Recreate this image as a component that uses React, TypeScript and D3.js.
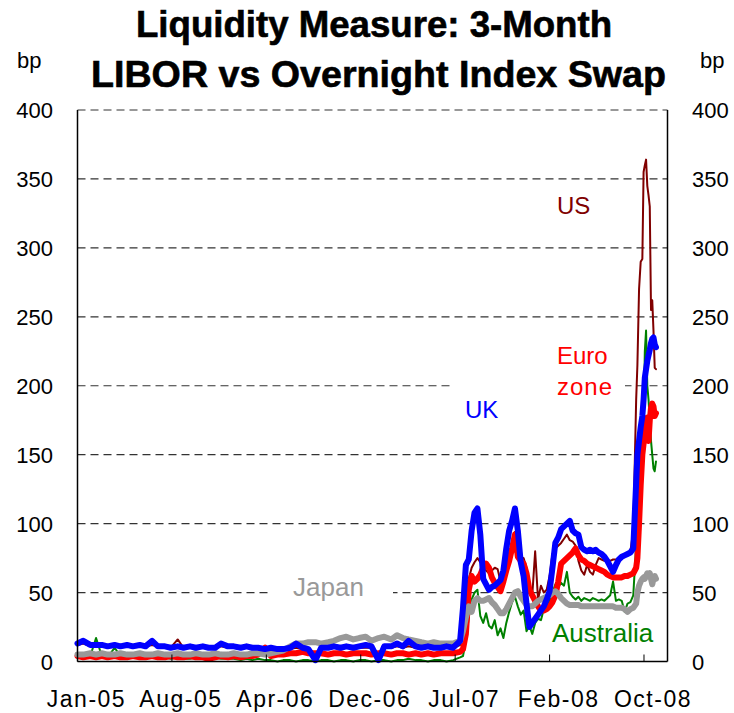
import React from "react";
import * as d3 from "d3";

// Observation dates: semi-monthly before the August 2007 turmoil, weekly afterwards,
// and every few days around the October 2008 peak.
const dates: string[] = [
  "2005-01-01","2005-01-15","2005-02-01","2005-02-15","2005-03-01","2005-03-15","2005-04-01","2005-04-15",
  "2005-05-01","2005-05-15","2005-06-01","2005-06-15","2005-07-01","2005-07-15","2005-08-01","2005-08-15",
  "2005-09-01","2005-09-15","2005-10-01","2005-10-15","2005-11-01","2005-11-15","2005-12-01","2005-12-15",
  "2006-01-01","2006-01-15","2006-02-01","2006-02-15","2006-03-01","2006-03-15","2006-04-01","2006-04-15",
  "2006-05-01","2006-05-15","2006-06-01","2006-06-15","2006-07-01","2006-07-15","2006-08-01","2006-08-15",
  "2006-09-01","2006-09-15","2006-10-01","2006-10-15","2006-11-01","2006-11-15","2006-12-01","2006-12-15",
  "2007-01-01","2007-01-15","2007-02-01","2007-02-15","2007-03-01","2007-03-15","2007-04-01","2007-04-15",
  "2007-05-01","2007-05-15","2007-06-01","2007-06-15","2007-07-01",
  "2007-07-18","2007-07-25","2007-08-01","2007-08-08","2007-08-15","2007-08-22","2007-08-29","2007-09-05",
  "2007-09-12","2007-09-19","2007-09-26","2007-10-03","2007-10-10","2007-10-17","2007-10-24","2007-10-31",
  "2007-11-07","2007-11-14","2007-11-21","2007-11-28","2007-12-05","2007-12-12","2007-12-19","2007-12-26",
  "2008-01-02","2008-01-09","2008-01-16","2008-01-23","2008-01-30","2008-02-06","2008-02-13","2008-02-20",
  "2008-02-27","2008-03-05","2008-03-12","2008-03-19","2008-03-26","2008-04-02","2008-04-09","2008-04-16",
  "2008-04-23","2008-04-30","2008-05-07","2008-05-14","2008-05-21","2008-05-28","2008-06-04","2008-06-11",
  "2008-06-18","2008-06-25","2008-07-02","2008-07-09","2008-07-16","2008-07-23","2008-07-30","2008-08-06",
  "2008-08-13","2008-08-20","2008-08-27","2008-09-03","2008-09-10","2008-09-17",
  "2008-09-20","2008-09-24","2008-09-28","2008-10-02","2008-10-05","2008-10-08","2008-10-11","2008-10-14",
  "2008-10-17","2008-10-20","2008-10-23","2008-10-26","2008-10-29","2008-11-01","2008-11-04",
];

// 3-month LIBOR minus OIS, basis points
const usSpread: number[] = [
  12,13,11,11,11,11,11,11,11,11,11,11,12,11,11,10,16,10,10,10,10,10,10,11,
  10,10,9,10,9,9,9,9,9,9,9,10,9,9,6,9,9,10,9,10,9,10,10,10,
  6,10,10,11,10,11,10,10,10,10,10,10,10,
  12,35,55,60,68,72,75,72,70,66,64,66,68,67,58,65,72,76,85,94,
  80,76,75,68,55,48,80,45,55,50,52,62,78,82,84,86,89,92,88,87,
  84,73,66,63,70,65,63,70,75,74,73,73,73,74,74,74,75,76,77,80,
  95,190,215,270,290,292,355,360,364,345,338,330,255,262,240,213,212,
];

const euroSpread: number[] = [
  4,3,4,3,4,3,4,3,3,4,3,3,4,3,3,4,3,3,4,3,3,2,3,4,
  3,4,3,4,4,5,10,4,5,5,6,6,7,6,6,6,5,6,6,5,6,6,6,5,
  6,6,5,6,6,5,6,5,6,5,6,6,6,
  7,9,20,52,62,58,60,63,68,71,68,61,57,54,51,58,66,73,82,92,
  76,73,71,64,52,48,44,40,37,37,38,40,43,48,58,71,73,75,77,79,
  82,77,74,73,71,70,69,68,67,66,65,63,62,61,61,61,61,62,62,63,
  64,68,75,100,128,150,158,165,172,177,160,175,184,187,185,178,180,
];

const ukSpread: number[] = [
  13,15,12,12,12,11,12,11,12,11,12,11,15,11,11,10,11,10,11,10,11,10,10,13,
  11,11,10,11,10,10,9,10,9,9,10,13,10,9,1,10,10,11,10,11,10,11,12,11,
  1,11,11,13,11,15,11,10,11,10,10,11,10,
  15,39,70,74,95,108,111,92,60,56,52,54,55,57,59,66,82,95,102,111,
  95,72,62,42,25,28,31,34,37,40,45,51,68,86,90,96,98,100,102,95,
  93,92,83,81,80,81,80,81,79,78,76,73,69,65,70,74,76,77,78,79,
  82,130,150,160,170,178,190,206,212,218,222,226,231,234,235,230,228,
];

const japanSpread: number[] = [
  5,5,6,5,6,5,5,6,5,5,6,5,5,6,5,5,6,5,5,6,5,5,6,5,
  5,6,5,5,6,6,5,6,7,8,11,13,13,14,14,13,14,15,17,18,16,17,18,15,
  17,18,16,19,17,16,15,14,13,14,13,13,13,
  15,22,32,40,36,44,46,44,44,45,46,43,41,38,35,35,38,42,46,50,
  51,47,44,41,40,40,42,44,45,46,47,48,50,51,49,46,44,42,41,41,
  41,41,40,40,40,40,40,40,40,40,40,40,40,40,39,39,39,38,36,38,
  39,42,50,55,58,60,61,60,62,64,63,64,60,56,60,62,60,
];

const australiaSpread: number[] = [
  4,5,4,17,4,3,10,4,3,3,4,3,3,2,3,2,3,2,2,3,2,2,3,2,
  2,2,1,2,1,2,1,1,0,1,1,0,1,1,0,1,1,0,1,1,0,1,1,0,
  1,1,0,1,1,2,1,1,0,1,1,0,1,
  3,4,15,32,45,50,52,33,28,35,26,24,30,19,24,17,28,36,43,47,
  40,34,37,22,26,20,28,31,30,38,41,44,50,56,54,57,55,65,50,47,
  45,47,44,46,45,44,46,45,44,45,44,46,48,58,44,45,44,36,42,43,
  48,85,95,110,125,135,170,225,240,200,190,175,160,150,140,138,145,
];

const yTicks: number[] = [0, 50, 100, 150, 200, 250, 300, 350, 400];
const xTickDates: string[] = ["2005-01-01","2005-08-18","2006-04-04","2006-11-19","2007-07-06","2008-02-20","2008-10-06"];
const xTickLabels: string[] = ["Jan-05","Aug-05","Apr-06","Dec-06","Jul-07","Feb-08","Oct-08"];

const parse = d3.utcParse("%Y-%m-%d");
const FONT = "'Liberation Sans', Arial, Helvetica, sans-serif";

const W = 734;
const H = 713;
const left = 77.5;
const right = 667.5;
const top = 110;
const bottom = 661.5;

const x = d3
  .scaleUtc()
  .domain([parse("2005-01-01") as Date, parse("2008-12-02") as Date])
  .range([left, right]);
const y = d3.scaleLinear().domain([0, 400]).range([bottom, top]);

type Pt = { date: Date; v: number };

const series = [
  { name: "US", values: usSpread, color: "#800000", width: 2 },
  { name: "Australia", values: australiaSpread, color: "#008000", width: 2 },
  { name: "Euro zone", values: euroSpread, color: "#ff0000", width: 6 },
  { name: "Japan", values: japanSpread, color: "#999999", width: 6 },
  { name: "UK", values: ukSpread, color: "#0000ff", width: 6 },
];

const line = d3
  .line<Pt>()
  .x((d) => x(d.date))
  .y((d) => y(d.v));

export default function App() {
  const parsedDates = dates.map((s) => parse(s) as Date);
  return (
    <svg
      width={W}
      height={H}
      viewBox={`0 0 ${W} ${H}`}
      style={{ position: "absolute", left: 0, top: 0, display: "block", background: "#fff" }}
      fontFamily={FONT}
    >
      <rect x={0} y={0} width={W} height={H} fill="#fff" />

      {/* title */}
      <g fontSize={36} fontWeight="bold" stroke="#000" strokeWidth={0.6}>
        <text x={136} y={37} textLength={476} lengthAdjust="spacingAndGlyphs">
          Liquidity Measure: 3-Month
        </text>
        <text x={91} y={87} textLength={575} lengthAdjust="spacingAndGlyphs">
          LIBOR vs Overnight Index Swap
        </text>
      </g>

      {/* unit labels */}
      <text x={17} y={68} fontSize={22}>bp</text>
      <text x={700} y={68} fontSize={22}>bp</text>

      {/* horizontal gridlines */}
      {yTicks.filter((t) => t > 0).map((t) => (
        <line
          key={t}
          x1={left}
          x2={right}
          y1={y(t)}
          y2={y(t)}
          stroke="#333"
          strokeWidth={1.2}
          strokeDasharray="8,5"
        />
      ))}

      {/* label backgrounds */}
      <rect x={270} y={575} width={123} height={30} fill="#fff" />
      <rect x={454} y={378} width={91} height={50} fill="#fff" />
      <rect x={545} y={335} width={80} height={70} fill="#fff" />

      {/* y tick labels, both sides */}
      {yTicks.map((t) => (
        <g key={t} fontSize={22}>
          <text x={53} y={y(t) + 8} textAnchor="end">{t}</text>
          <text x={692} y={y(t) + 8}>{t}</text>
        </g>
      ))}

      {/* series */}
      {series.map((s) => {
        const pts: Pt[] = parsedDates.map((d, i) => ({ date: d, v: s.values[i] }));
        return (
          <path
            key={s.name}
            d={line(pts) || ""}
            fill="none"
            stroke={s.color}
            strokeWidth={s.width}
            strokeLinejoin="round"
            strokeLinecap="round"
          />
        );
      })}

      {/* plot frame */}
      <line x1={left} x2={left} y1={top} y2={bottom} stroke="#000" strokeWidth={1.5} />
      <line x1={right} x2={right} y1={top} y2={bottom} stroke="#000" strokeWidth={1.5} />
      <line x1={left} x2={right} y1={bottom} y2={bottom} stroke="#000" strokeWidth={1.5} />

      {/* x ticks and labels */}
      {xTickDates.map((ds, i) => {
        const xv = x(parse(ds) as Date);
        return (
          <g key={ds}>
            <line x1={xv} x2={xv} y1={bottom} y2={bottom - 7} stroke="#000" strokeWidth={1} />
            <text x={xv + 9} y={707} fontSize={23} textAnchor="middle" letterSpacing={1.5}>
              {xTickLabels[i]}
            </text>
          </g>
        );
      })}

      {/* series labels */}
      <text x={557} y={214} fontSize={24} fill="#800000">US</text>
      <text x={557} y={364} fontSize={24} fill="#ff0000">Euro</text>
      <text x={557} y={395} fontSize={24} fill="#ff0000" letterSpacing={1}>zone</text>
      <text x={465} y={418} fontSize={24} fill="#0000ff">UK</text>
      <text x={293} y={596} fontSize={26} fill="#999999">Japan</text>
      <text x={552} y={642} fontSize={26} fill="#008000">Australia</text>
    </svg>
  );
}
